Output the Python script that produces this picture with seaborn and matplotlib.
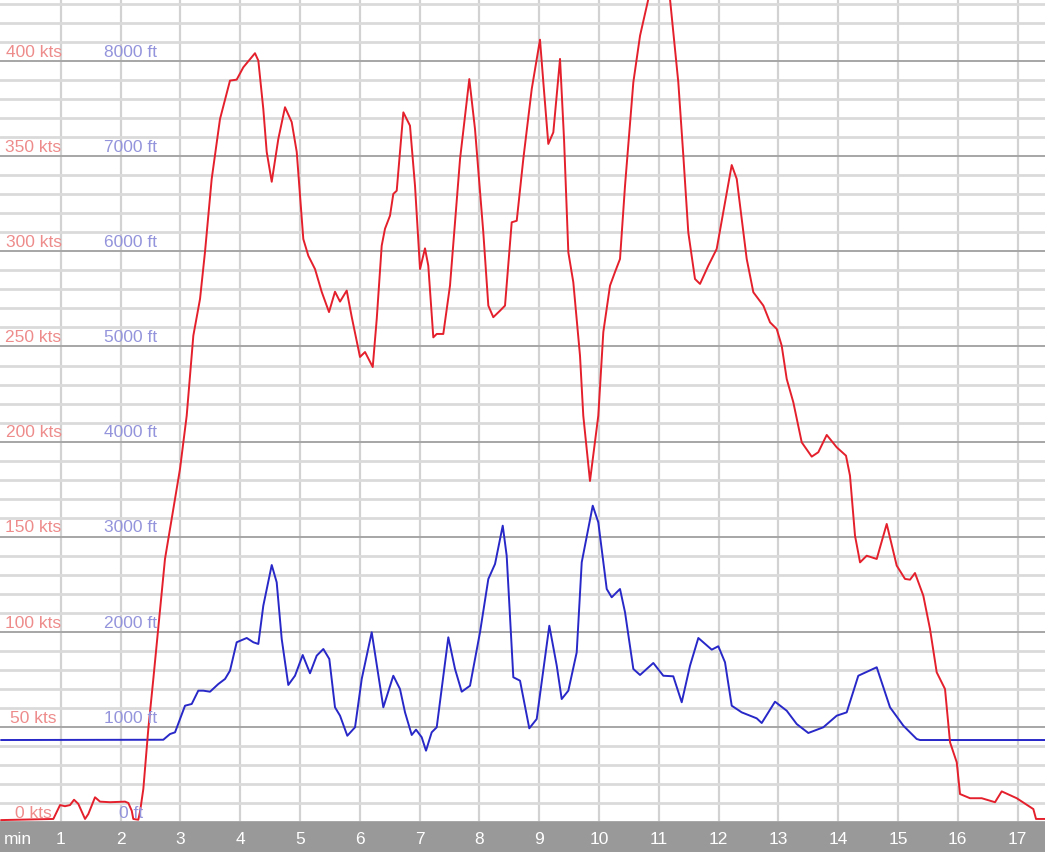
import pandas as pd
import seaborn as sns
import matplotlib.pyplot as plt
import matplotlib.transforms as mtransforms

# airspeed trace (minutes, knots)
speed_min = [0.0, 0.875, 0.987, 1.07, 1.154, 1.221, 1.293, 1.405, 1.46, 1.572, 1.656, 1.823, 2.074, 2.129,
             2.186, 2.212, 2.296, 2.324, 2.38, 2.463, 2.547, 2.742, 2.993, 3.105, 3.216, 3.328, 3.411, 3.523,
             3.662, 3.829, 3.941, 4.052, 4.247, 4.303, 4.386, 4.443, 4.527, 4.637, 4.749, 4.861, 4.945, 5.055,
             5.139, 5.251, 5.363, 5.485, 5.585, 5.669, 5.781, 5.865, 6.003, 6.087, 6.216, 6.283, 6.366, 6.421,
             6.505, 6.56, 6.617, 6.728, 6.784, 6.839, 6.923, 7.007, 7.09, 7.145, 7.229, 7.286, 7.396, 7.508,
             7.676, 7.831, 7.926, 8.065, 8.149, 8.232, 8.344, 8.428, 8.54, 8.624, 8.734, 8.875, 9.013, 9.069,
             9.152, 9.236, 9.348, 9.415, 9.487, 9.57, 9.682, 9.737, 9.849, 9.988, 10.072, 10.184, 10.268,
             10.351, 10.435, 10.574, 10.686, 10.825, 11.0, 11.187, 11.326, 11.41, 11.493, 11.605, 11.689,
             11.828, 11.968, 12.079, 12.219, 12.303, 12.47, 12.581, 12.748, 12.86, 12.972, 13.055, 13.139,
             13.249, 13.39, 13.557, 13.667, 13.808, 13.975, 14.13, 14.197, 14.281, 14.365, 14.476, 14.644,
             14.811, 14.978, 15.117, 15.201, 15.284, 15.423, 15.535, 15.647, 15.786, 15.87, 15.982, 16.037,
             16.204, 16.4, 16.622, 16.734, 16.985, 17.263, 17.308, 17.46]
speed_kts = [1.0, 1.6, 8.9, 8.3, 8.9, 11.7, 9.5, 1.6, 4.2, 13.0, 10.7, 10.4, 10.7, 10.0,
             5.9, 1.6, 1.2, 5.3, 17.4, 48.9, 75.2, 138.3, 185.6, 213.6, 255.7, 275.0, 299.7, 338.1,
             369.6, 389.8, 390.3, 396.8, 404.2, 400.3, 374.9, 352.3, 336.6, 359.1, 375.8, 368.0, 352.3, 306.5,
             297.7, 290.7, 278.7, 268.1, 278.8, 273.6, 279.4, 265.5, 244.5, 247.1, 239.2, 264.5, 303.0, 311.9,
             318.8, 330.2, 331.9, 373.1, 369.6, 366.1, 334.5, 290.7, 301.6, 292.5, 254.8, 256.6, 256.6, 282.0,
             348.6, 390.6, 364.4, 310.0, 271.5, 265.4, 268.8, 271.5, 315.3, 316.1, 348.6, 385.4, 411.3, 388.9,
             356.5, 362.6, 401.2, 359.1, 299.5, 283.8, 245.2, 213.6, 179.3, 213.6, 257.6, 282.0, 289.2,
             296.0, 334.6, 388.9, 413.4, 432.7, 441.0, 432.7, 388.9, 350.3, 310.0, 285.5, 282.9,
             292.5, 301.3, 320.7, 345.4, 338.1, 296.0, 278.5, 271.5, 262.7, 259.2, 250.4, 232.9,
             220.7, 199.6, 192.1, 194.4, 203.5, 197.0, 192.6, 182.1, 150.5, 136.5, 140.0, 138.3,
             156.7, 134.8, 127.8, 127.4, 130.9, 119.0, 101.5, 78.7, 69.9, 41.9, 31.4, 14.7,
             12.5, 12.5, 10.4, 16.1, 12.5, 6.8, 1.6, 1.6]

# altitude trace (minutes, feet)
alt_min = [0.0, 2.714, 2.826, 2.91, 3.077, 3.189, 3.299, 3.383, 3.495, 3.634, 3.746, 3.829, 3.941, 4.109,
           4.219, 4.303, 4.386, 4.527, 4.61, 4.694, 4.804, 4.916, 5.045, 5.167, 5.279, 5.39, 5.49, 5.585,
           5.669, 5.791, 5.92, 6.032, 6.199, 6.393, 6.56, 6.672, 6.756, 6.868, 6.94, 7.035, 7.107, 7.202,
           7.286, 7.48, 7.592, 7.704, 7.843, 8.01, 8.149, 8.261, 8.39, 8.456, 8.567, 8.679, 8.834, 8.958,
           9.169, 9.293, 9.376, 9.487, 9.627, 9.711, 9.895, 9.988, 10.129, 10.212, 10.351, 10.435, 10.574,
           10.686, 10.908, 11.075, 11.242, 11.383, 11.522, 11.661, 11.885, 11.995, 12.107, 12.219, 12.386,
           12.637, 12.721, 12.943, 13.139, 13.306, 13.5, 13.751, 13.975, 14.142, 14.336, 14.644, 14.866,
           15.089, 15.312, 15.368, 17.46]
alt_ft = [862, 865, 925, 943, 1223, 1241, 1381, 1381, 1370, 1451, 1504, 1591, 1890, 1935,
          1890, 1872, 2274, 2702, 2520, 1924, 1441, 1538, 1756, 1564, 1749, 1819, 1714, 1206,
          1118, 907, 996, 1504, 1995, 1206, 1538, 1398, 1153, 915, 971, 891, 750, 943,
          996, 1942, 1609, 1370, 1433, 1995, 2555, 2713, 3116, 2800, 1522, 1486, 985, 1083,
          2064, 1644, 1293, 1381, 1784, 2731, 3326, 3151, 2450, 2363, 2450, 2205, 1609,
          1546, 1672, 1538, 1532, 1259, 1644, 1935, 1812, 1848, 1679, 1223, 1153,
          1090, 1041, 1265, 1170, 1030, 936, 996, 1118, 1153, 1538, 1627, 1206,
          1013, 873, 862, 862]

kts_levels = [0, 50, 100, 150, 200, 250, 300, 350, 400]
kts_labels = ["0 kts", "50 kts", "100 kts", "150 kts", "200 kts", "250 kts", "300 kts", "350 kts", "400 kts"]
ft_labels = ["0 ft", "1000 ft", "2000 ft", "3000 ft", "4000 ft", "5000 ft", "6000 ft", "7000 ft", "8000 ft"]
minute_ticks = list(range(1, 18))

speed_df = pd.DataFrame({"min": speed_min, "kts": speed_kts})
alt_df = pd.DataFrame({"min": alt_min, "ft": alt_ft})

sns.set_style("white")
plt.rcParams["font.family"] = ["Liberation Sans", "DejaVu Sans"]

W, H = 1045, 853
bar_h = 30
x_lo, x_hi = -0.017, 17.458
kts_top = 432.7

fig = plt.figure(figsize=(W / 100, H / 100), dpi=100)
ax = fig.add_axes([0, bar_h / H, 1, 1 - bar_h / H])
bar = fig.add_axes([0, 0, 1, bar_h / H])

# grid on the altitude axis (ft = 20 * kts)
ax.set_xlim(x_lo, x_hi)
ax.set_ylim(0, kts_top * 20)
ax.set_xticks(minute_ticks)
ax.set_yticks(range(0, 9000, 1000))
ax.set_yticks(range(0, 8800, 200), minor=True)
ax.grid(which="minor", axis="y", color="#dadada", lw=2.0)
ax.grid(which="major", axis="y", color="#a6a6a6", lw=1.4)
ax.grid(which="major", axis="x", color="#d2d2d2", lw=1.6)
ax.set_axisbelow(True)
ax.tick_params(which="both", length=0, labelleft=False, labelbottom=False)
for s in ax.spines.values():
    s.set_visible(False)

sns.lineplot(data=alt_df, x="min", y="ft", ax=ax, color="#2828c8", lw=1.4, estimator=None)
ax.set_xlabel("")
ax.set_ylabel("")

ax2 = ax.twinx()
ax2.set_ylim(0, kts_top)
sns.lineplot(data=speed_df, x="min", y="kts", ax=ax2, color="#e4202c", lw=1.4, estimator=None)
ax2.set_xlim(x_lo, x_hi)
ax2.set_xlabel("")
ax2.set_ylabel("")
ax2.tick_params(which="both", length=0, labelright=False)
for s in ax2.spines.values():
    s.set_visible(False)

# axis value labels sitting just above each 50 kts line
blend = mtransforms.blended_transform_factory(ax2.transAxes, ax2.transData)
for v, kl, fl in zip(kts_levels, kts_labels, ft_labels):
    ax2.annotate(kl, xy=(33.5 / W, v), xycoords=blend, xytext=(0, 3.8), textcoords="offset points",
                 ha="center", va="baseline", fontsize=12.5, color="#ee8c8c")
    ax2.annotate(fl, xy=(131 / W, v), xycoords=blend, xytext=(0, 3.8), textcoords="offset points",
                 ha="center", va="baseline", fontsize=12.5, color="#9494dc")

# bottom minute bar
bar.set_facecolor("#999999")
bar.set_xlim(x_lo, x_hi)
bar.set_ylim(0, 1)
bar.set_xticks([])
bar.set_yticks([])
for s in bar.spines.values():
    s.set_visible(False)
bar.text(18 / W, 0.45, "min", transform=bar.transAxes, ha="center", va="center",
         fontsize=12.5, color="white")
for m in minute_ticks:
    bar.text(m, 0.45, str(m), ha="center", va="center", fontsize=12.5, color="white")

fig.savefig("out.png", dpi=100)
